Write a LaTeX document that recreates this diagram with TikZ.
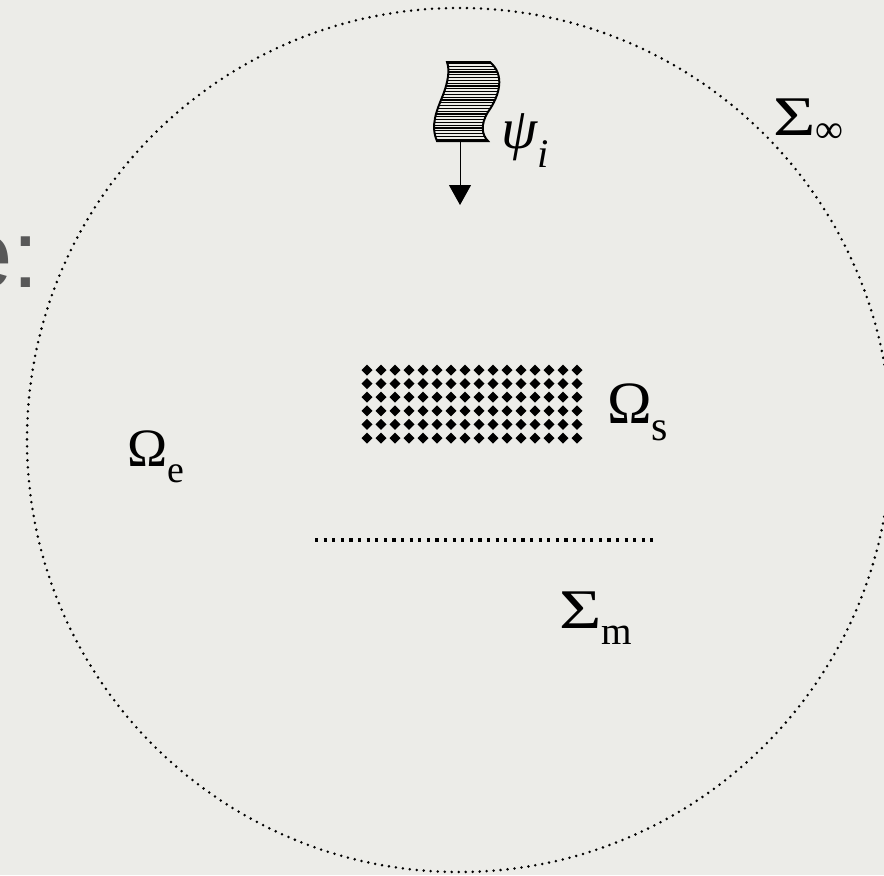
\documentclass[tikz,border=0pt]{standalone}
\usepackage{fontspec}
\setmainfont{Liberation Serif}
\newfontfamily\titlefont{Liberation Sans}
\usepackage{tikz}
\usetikzlibrary{arrows.meta}
\definecolor{SlideGray}{RGB}{236, 236, 232}
\definecolor{TitleGray}{RGB}{88, 88, 88}
\newcommand{\lowsub}[1]{\raisebox{-0.17em}{\textsubscript{#1}}}
\newcommand{\wideS}{\scalebox{1.3}[1]{Σ}}
\tikzset{
  symb/.style={inner sep=0pt, anchor=base west},
  dotline/.style={line width=1.4pt, dash pattern=on 0pt off 3.5pt, line cap=round},
  planeline/.style={line width=1.8pt, dash pattern=on 1.6pt off 2.7pt},
  hatch/.style={line width=0.6pt}
}

\begin{document}
\begin{tikzpicture}[x=0.5pt, y=-0.5pt]
  \useasboundingbox (0,0) rectangle (884,875);
  \fill[SlideGray] (0,0) rectangle (884,875);

  % piece of the slide title behind the picture
  \node[inner sep=0pt, anchor=base east, text=TitleGray] (title) at (40,287)
    {\titlefont\fontsize{48}{52}\selectfont e:};

  % outer boundary
  \coordinate (ctr) at (459,440);
  \draw[dotline] (ctr) circle (432);

  % incident wave
  \begin{scope}
    \clip (447,62) -- (490,62) .. controls (505,75) and (500,95) .. (488,112)
      .. controls (480,125) and (482,135) .. (488,141) -- (437,141)
      .. controls (430,125) and (437,110) .. (443,95)
      .. controls (448,82) and (450,70) .. (447,62) -- cycle;
    \foreach \y in {63.5,66.3,...,141}
      \draw[hatch] (420,\y) -- (510,\y);
  \end{scope}
  \draw[line width=1pt] (447,62) -- (490,62) .. controls (505,75) and (500,95) .. (488,112)
      .. controls (480,125) and (482,135) .. (488,141) -- (437,141)
      .. controls (430,125) and (437,110) .. (443,95)
      .. controls (448,82) and (450,70) .. (447,62) -- cycle;
  \coordinate (waveBot) at (460,141);
  \coordinate (waveTip) at (460,205);
  \draw[line width=0.5pt, -{Triangle[length=10pt, width=11pt]}] (waveBot) -- (waveTip);
  \node[symb] (psi) at (501,148) {\fontsize{29}{34}\selectfont\textit{ψ\lowsub{i}}};

  % scatterer
  \foreach \c in {0,...,15}
    \foreach \r in {0,...,5}
      \fill[shift={(367+14*\c,370+13.6*\r)}] (0,-5.5) -- (5.5,0) -- (0,5.5) -- (-5.5,0) -- cycle;
  \node[symb] (omegaS) at (607,423) {\fontsize{30}{36}\selectfont Ω\lowsub{s}};

  \node[symb] (omegaE) at (127,466) {\fontsize{27}{32}\selectfont Ω\lowsub{e}};

  % measurement plane
  \coordinate (planeL) at (315,540);
  \coordinate (planeR) at (653,540);
  \draw[planeline] (planeL) -- (planeR);
  \node[symb] (sigmaM) at (559,628) {\fontsize{28}{34}\selectfont\wideS\lowsub{m}};

  \node[symb] (sigmaInf) at (773,135) {\fontsize{28}{34}\selectfont\wideS\textsubscript{∞}};
\end{tikzpicture}
\end{document}
